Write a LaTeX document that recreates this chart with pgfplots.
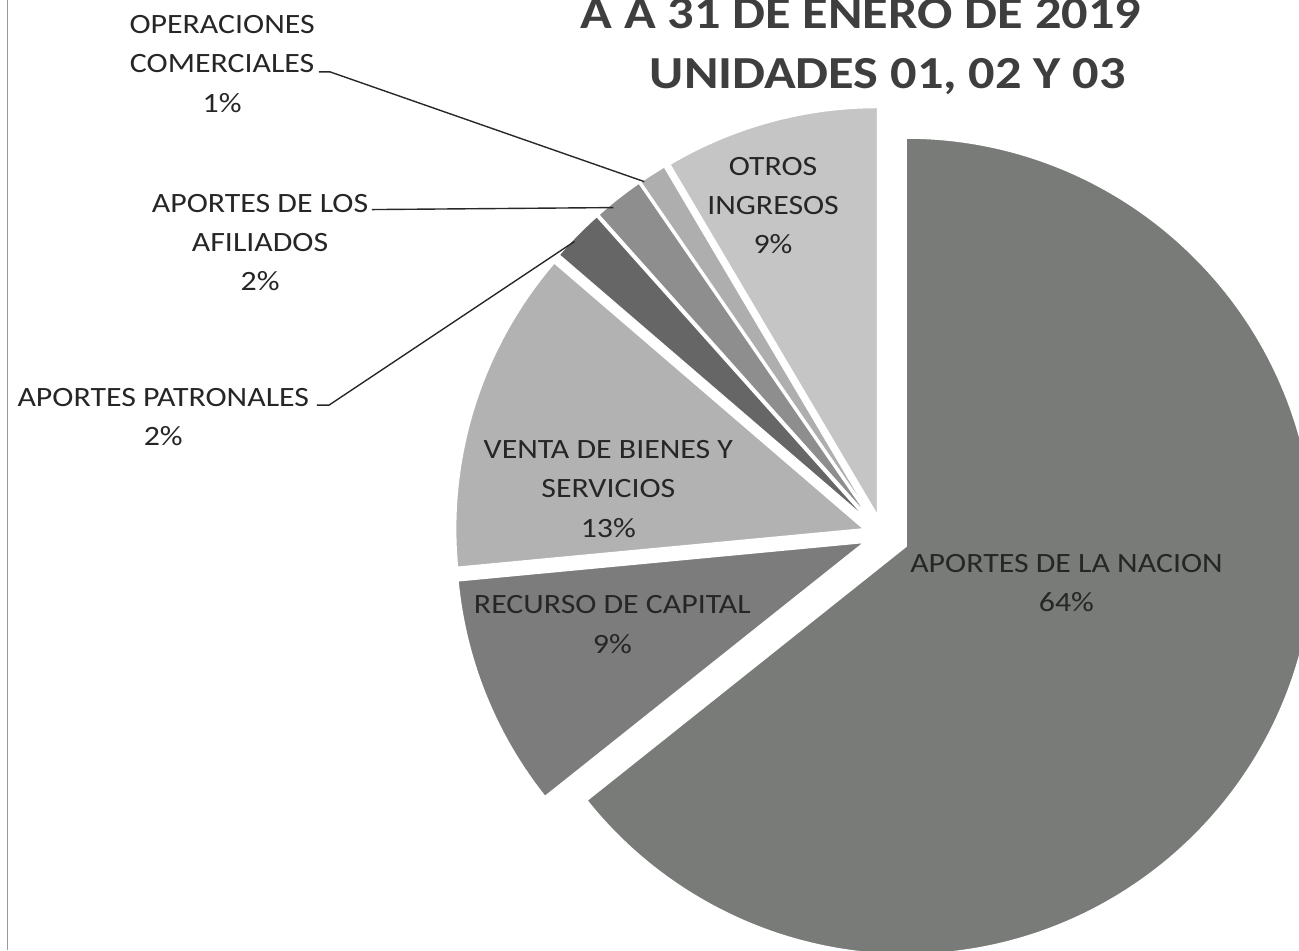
\documentclass[border=0pt]{standalone}
\usepackage{fontspec}
\setmainfont{Carlito}[FakeStretch=1.14]
\usepackage{pgfplots}
\pgfplotsset{compat=1.18}
\usepackage{pgfplotstable}

\definecolor{c0}{RGB}{120,123,120}
\definecolor{c1}{RGB}{124,124,124}
\definecolor{c2}{RGB}{178,178,178}
\definecolor{c3}{RGB}{102,102,102}
\definecolor{c4}{RGB}{142,142,142}
\definecolor{c5}{RGB}{174,174,174}
\definecolor{c6}{RGB}{197,197,197}
\definecolor{txt}{RGB}{38,38,38}
\definecolor{ttl}{RGB}{62,62,62}
\definecolor{lead}{RGB}{40,40,40}

% share of each item (percent) and explode distance (pt), clockwise from 12 o'clock
\pgfplotstableread{
name value explode
Nacion 64.3 26
Capital 9.2 20
Venta 12.8 20
Patronales 2.1 20
Afiliados 2.0 20
Comerciales 1.1 20
Otros 8.5 20
}\piedata

\begin{document}
\xdef\cumA{90}
\foreach \i in {0,...,6}{%
  \pgfplotstablegetelem{\i}{value}\of\piedata
  \let\v\pgfplotsretval
  \pgfplotstablegetelem{\i}{explode}\of\piedata
  \let\ex\pgfplotsretval
  \pgfmathsetmacro\endA{\cumA-3.6*\v}%
  \pgfmathsetmacro\midA{(\cumA+\endA)/2}%
  \expandafter\xdef\csname sS\i\endcsname{\cumA}%
  \expandafter\xdef\csname sE\i\endcsname{\endA}%
  \expandafter\xdef\csname sM\i\endcsname{\midA}%
  \expandafter\xdef\csname sX\i\endcsname{\ex}%
  \xdef\cumA{\endA}%
}%
\begin{tikzpicture}
\begin{axis}[width=1299pt, height=952pt, scale only axis,
  xmin=0, xmax=1299, ymin=0, ymax=952, hide axis, clip=true]
\coordinate (BL) at (axis cs:0,0);
\coordinate (TR) at (axis cs:1299,952);
% left page border
\draw[gray!80, line width=1.6pt] (axis cs:5,0) -- (axis cs:5,952);
% pie slices
\pgfplotsinvokeforeach{0,...,6}{
  \fill[c#1, draw=white, line width=1.5pt]
    ([shift={(\csname sM#1\endcsname:\csname sX#1\endcsname pt)}]axis cs:882,416)
    -- ++(\csname sS#1\endcsname:409pt)
    arc[start angle=\csname sS#1\endcsname, end angle=\csname sE#1\endcsname, radius=409pt]
    -- cycle;
}
% leader lines
\draw[lead, line width=1.4pt] (axis cs:317,880) -- (axis cs:328,880) -- (axis cs:643,770);
\draw[lead, line width=1.4pt] (axis cs:370,742) -- (axis cs:612,744);
\draw[lead, line width=1.4pt] (axis cs:315,546) -- (axis cs:327,546) -- (axis cs:573,710);
% labels
\begin{scope}[every node/.style={align=center, inner sep=0pt, text=txt, font=\fontsize{28}{39.5}\selectfont}]
\node at (axis cs:220,888) {OPERACIONES\\COMERCIALES\\1\%};
\node at (axis cs:258,709) {APORTES DE LOS\\AFILIADOS\\2\%};
\node at (axis cs:161,534) {APORTES PATRONALES\\2\%};
\node at (axis cs:772,746) {OTROS\\INGRESOS\\9\%};
\node at (axis cs:607,462) {VENTA DE BIENES Y\\SERVICIOS\\13\%};
\node at (axis cs:611,326) {RECURSO DE CAPITAL\\9\%};
\node at (axis cs:1066,368) {APORTES DE LA NACION\\64\%};
\end{scope}
% title
\node[text=ttl, font=\fontsize{46}{58}\selectfont\bfseries, inner sep=0pt, anchor=base] at (axis cs:860,923) {A A 31 DE ENERO DE 2019};
\node[text=ttl, font=\fontsize{46}{58}\selectfont\bfseries, inner sep=0pt, anchor=base] at (axis cs:887,863) {UNIDADES 01, 02 Y 03};
\end{axis}
\pgfresetboundingbox
\useasboundingbox (BL) rectangle (TR);
\end{tikzpicture}
\end{document}
